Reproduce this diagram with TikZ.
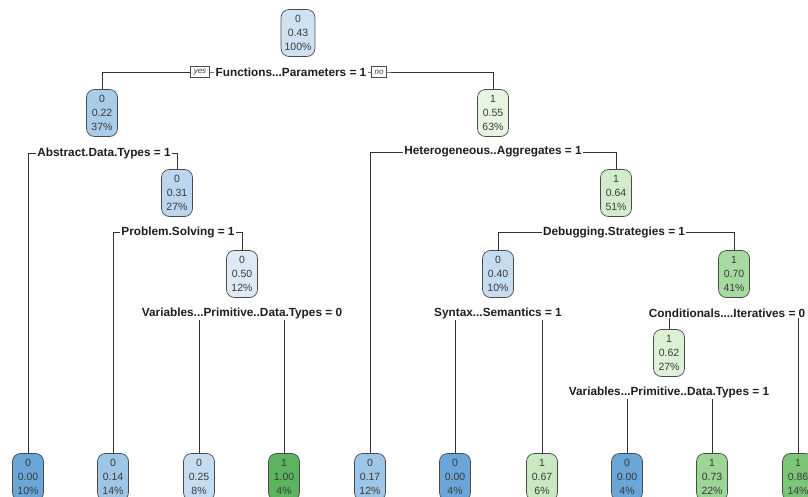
\documentclass[tikz,border=0pt]{standalone}
\usepackage{fontspec}
\setmainfont{Liberation Sans}
\usetikzlibrary{backgrounds}
\definecolor{bA}{HTML}{6AA6D8}
\definecolor{bB}{HTML}{9EC6E6}
\definecolor{bC}{HTML}{A9CDE8}
\definecolor{bD}{HTML}{BBD6EE}
\definecolor{bE}{HTML}{C6DCF0}
\definecolor{bF}{HTML}{CFE2F3}
\definecolor{bG}{HTML}{DDEAF6}
\definecolor{gA}{HTML}{E6F5E1}
\definecolor{gB}{HTML}{DDF1D7}
\definecolor{gC}{HTML}{D3EDCC}
\definecolor{gD}{HTML}{C9E9C1}
\definecolor{gE}{HTML}{A8DBA1}
\definecolor{gF}{HTML}{9DD597}
\definecolor{gG}{HTML}{7DC677}
\definecolor{gH}{HTML}{5CB55E}
\definecolor{boxline}{HTML}{4A4A4A}
\definecolor{boxtext}{HTML}{3A3A3A}
\definecolor{conncol}{HTML}{333333}
\begin{document}
\begin{tikzpicture}[x=1pt,y=-1pt,
  treebox/.style={draw=boxline, line width=0.7pt, rounded corners=8pt,
    minimum width=31pt, minimum height=47pt, inner xsep=3.5pt, inner ysep=0pt,
    align=center, text=boxtext, font=\fontsize{10.5}{14}\selectfont},
  splitlbl/.style={fill=white, inner xsep=1.5pt, inner ysep=1pt,
    font=\fontsize{11.8}{13}\selectfont\bfseries, text=black!88},
  ynbox/.style={draw=black!70, fill=white, line width=0.6pt,
    font=\fontsize{8}{9}\selectfont\itshape, inner xsep=3pt, inner ysep=1pt,
    minimum height=11pt, text=black!75},
  conn/.style={draw=conncol, line width=0.9pt}]
\clip (0,0) rectangle (808,497);
\useasboundingbox (0,0) rectangle (808,497);
% interior nodes
\node[treebox, fill=bF] (n0) at (298,33) {0\\0.43\\100\%};
\node[treebox, fill=bC] (n1) at (102,113) {0\\0.22\\37\%};
\node[treebox, fill=bD] (n2) at (177,193) {0\\0.31\\27\%};
\node[treebox, fill=bG] (n3) at (242,274) {0\\0.50\\12\%};
\node[treebox, fill=gA] (n4) at (493,113) {1\\0.55\\63\%};
\node[treebox, fill=gC] (n5) at (616,193) {1\\0.64\\51\%};
\node[treebox, fill=bE] (n6) at (498,274) {0\\0.40\\10\%};
\node[treebox, fill=gE] (n7) at (734,274) {1\\0.70\\41\%};
\node[treebox, fill=gB] (n8) at (669,353) {1\\0.62\\27\%};
% leaves
\node[treebox, fill=bA] (l1) at (28,477) {0\\0.00\\10\%};
\node[treebox, fill=bB] (l2) at (113,477) {0\\0.14\\14\%};
\node[treebox, fill=bE] (l3) at (199,477) {0\\0.25\\8\%};
\node[treebox, fill=gH] (l4) at (284,477) {1\\1.00\\4\%};
\node[treebox, fill=bB] (l5) at (370,477) {0\\0.17\\12\%};
\node[treebox, fill=bA] (l6) at (455,477) {0\\0.00\\4\%};
\node[treebox, fill=gD] (l7) at (542,477) {1\\0.67\\6\%};
\node[treebox, fill=bA] (l8) at (627,477) {0\\0.00\\4\%};
\node[treebox, fill=gF] (l9) at (712,477) {1\\0.73\\22\%};
\node[treebox, fill=gG] (l10) at (798,477) {1\\0.86\\14\%};
% split labels
\node[splitlbl] (s0) at (291,72) {Functions...Parameters = 1};
\node[ynbox] (yes) at (200,72) {yes};
\node[ynbox] (no) at (379,72) {no};
\node[splitlbl] (s1) at (104,153) {Abstract.Data.Types = 1};
\node[splitlbl] (s2) at (178,232) {Problem.Solving = 1};
\node[splitlbl] (s3) at (242,313) {Variables...Primitive..Data.Types = 0};
\node[splitlbl] (s4) at (493,152) {Heterogeneous..Aggregates = 1};
\node[splitlbl] (s5) at (614,232) {Debugging.Strategies = 1};
\node[splitlbl] (s6) at (498,313) {Syntax...Semantics = 1};
\node[splitlbl, anchor=east] (s7) at (807,313) {Conditionals....Iteratives = 0};
\node[splitlbl] (s8) at (669,392) {Variables...Primitive..Data.Types = 1};
% connectors
\begin{scope}[on background layer]
\draw[conn] (n1.north) |- (s0.center) -| (n4.north);
\draw[conn] (l1.north) |- (s1.center) -| (n2.north);
\draw[conn] (l2.north) |- (s2.center) -| (n3.north);
\draw[conn] (l3.north) |- (s3.center) -| (l4.north);
\draw[conn] (l5.north) |- (s4.center) -| (n5.north);
\draw[conn] (n6.north) |- (s5.center) -| (n7.north);
\draw[conn] (l6.north) |- (s6.center) -| (l7.north);
\draw[conn] (n8.north) |- (s7.center) -| (l10.north);
\draw[conn] (l8.north) |- (s8.center) -| (l9.north);
\end{scope}
\end{tikzpicture}
\end{document}
